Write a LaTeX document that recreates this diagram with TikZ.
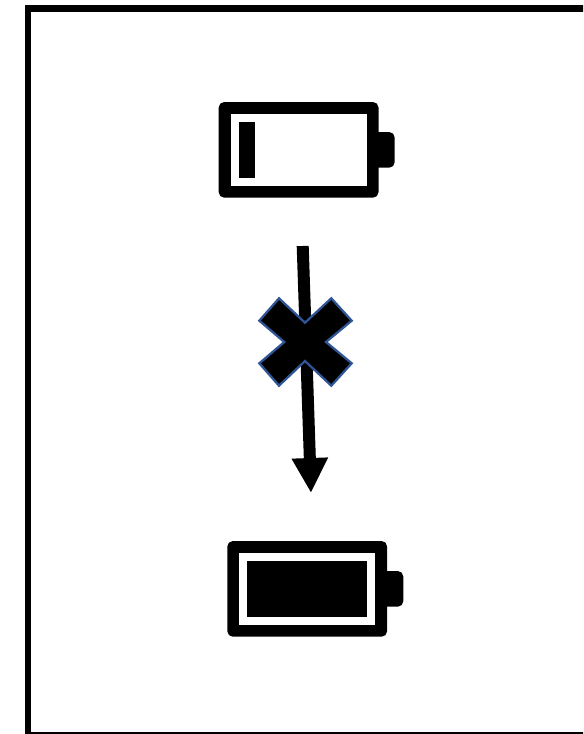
\documentclass[tikz,border=0pt]{standalone}
\usetikzlibrary{arrows.meta}
\definecolor{crossedge}{HTML}{2F5597}
\tikzset{
  frameline/.style={draw=black,line width=0.14cm},
  cellpart/.style={fill=black,rounded corners=0.11cm},
  chargebar/.style={fill=black},
  flowarrow/.style={draw=black,line width=0.24cm,-{Triangle[length=0.7cm,width=0.68cm]}},
  crossmark/.style={fill=black,draw=crossedge,line width=0.045cm,line join=miter}
}
\begin{document}
\begin{tikzpicture}[x=0.02cm,y=-0.02cm]
  \useasboundingbox (0,0) rectangle (583,734);
  % outer frame runs off the right and bottom edge
  \begin{scope}
    \clip (0,0) rectangle (583,734);
    \draw[frameline] (28,8.2) rectangle (590,735);
  \end{scope}
  % batteries: empty on top, full below
  \foreach \bname/\bx/\by/\barl/\bart/\barr/\barb in {
      low/218.7/102/20.3/20/36.3/76,
      full/227.3/541/19.4/20/139.7/76} {
    \fill[cellpart] (\bx+150,\by+30) -- (\bx+176,\by+30) -- (\bx+176,\by+65.7) -- (\bx+150,\by+65.7) -- cycle;
    \fill[cellpart] (\bx,\by) rectangle (\bx+159.8,\by+95.7);
    \fill[white] (\bx+12,\by+12) rectangle (\bx+148,\by+84);
    \fill[chargebar] (\bx+\barl,\by+\bart) rectangle (\bx+\barr,\by+\barb);
  }
  % blocked arrow
  \coordinate (flowstart) at (302.7,246);
  \coordinate (flowend) at (311,493);
  \draw[flowarrow] (flowstart) -- (flowend);
  \draw[crossmark] (279,298.3) -- (305,322.7) -- (331.3,298.3) -- (351.7,320.7)
    -- (326,342) -- (351.7,363.3) -- (331.3,385.7) -- (305,361) -- (279,385.7)
    -- (259.3,363.3) -- (284.3,342) -- (259.3,320.7) -- cycle;
\end{tikzpicture}
\end{document}
